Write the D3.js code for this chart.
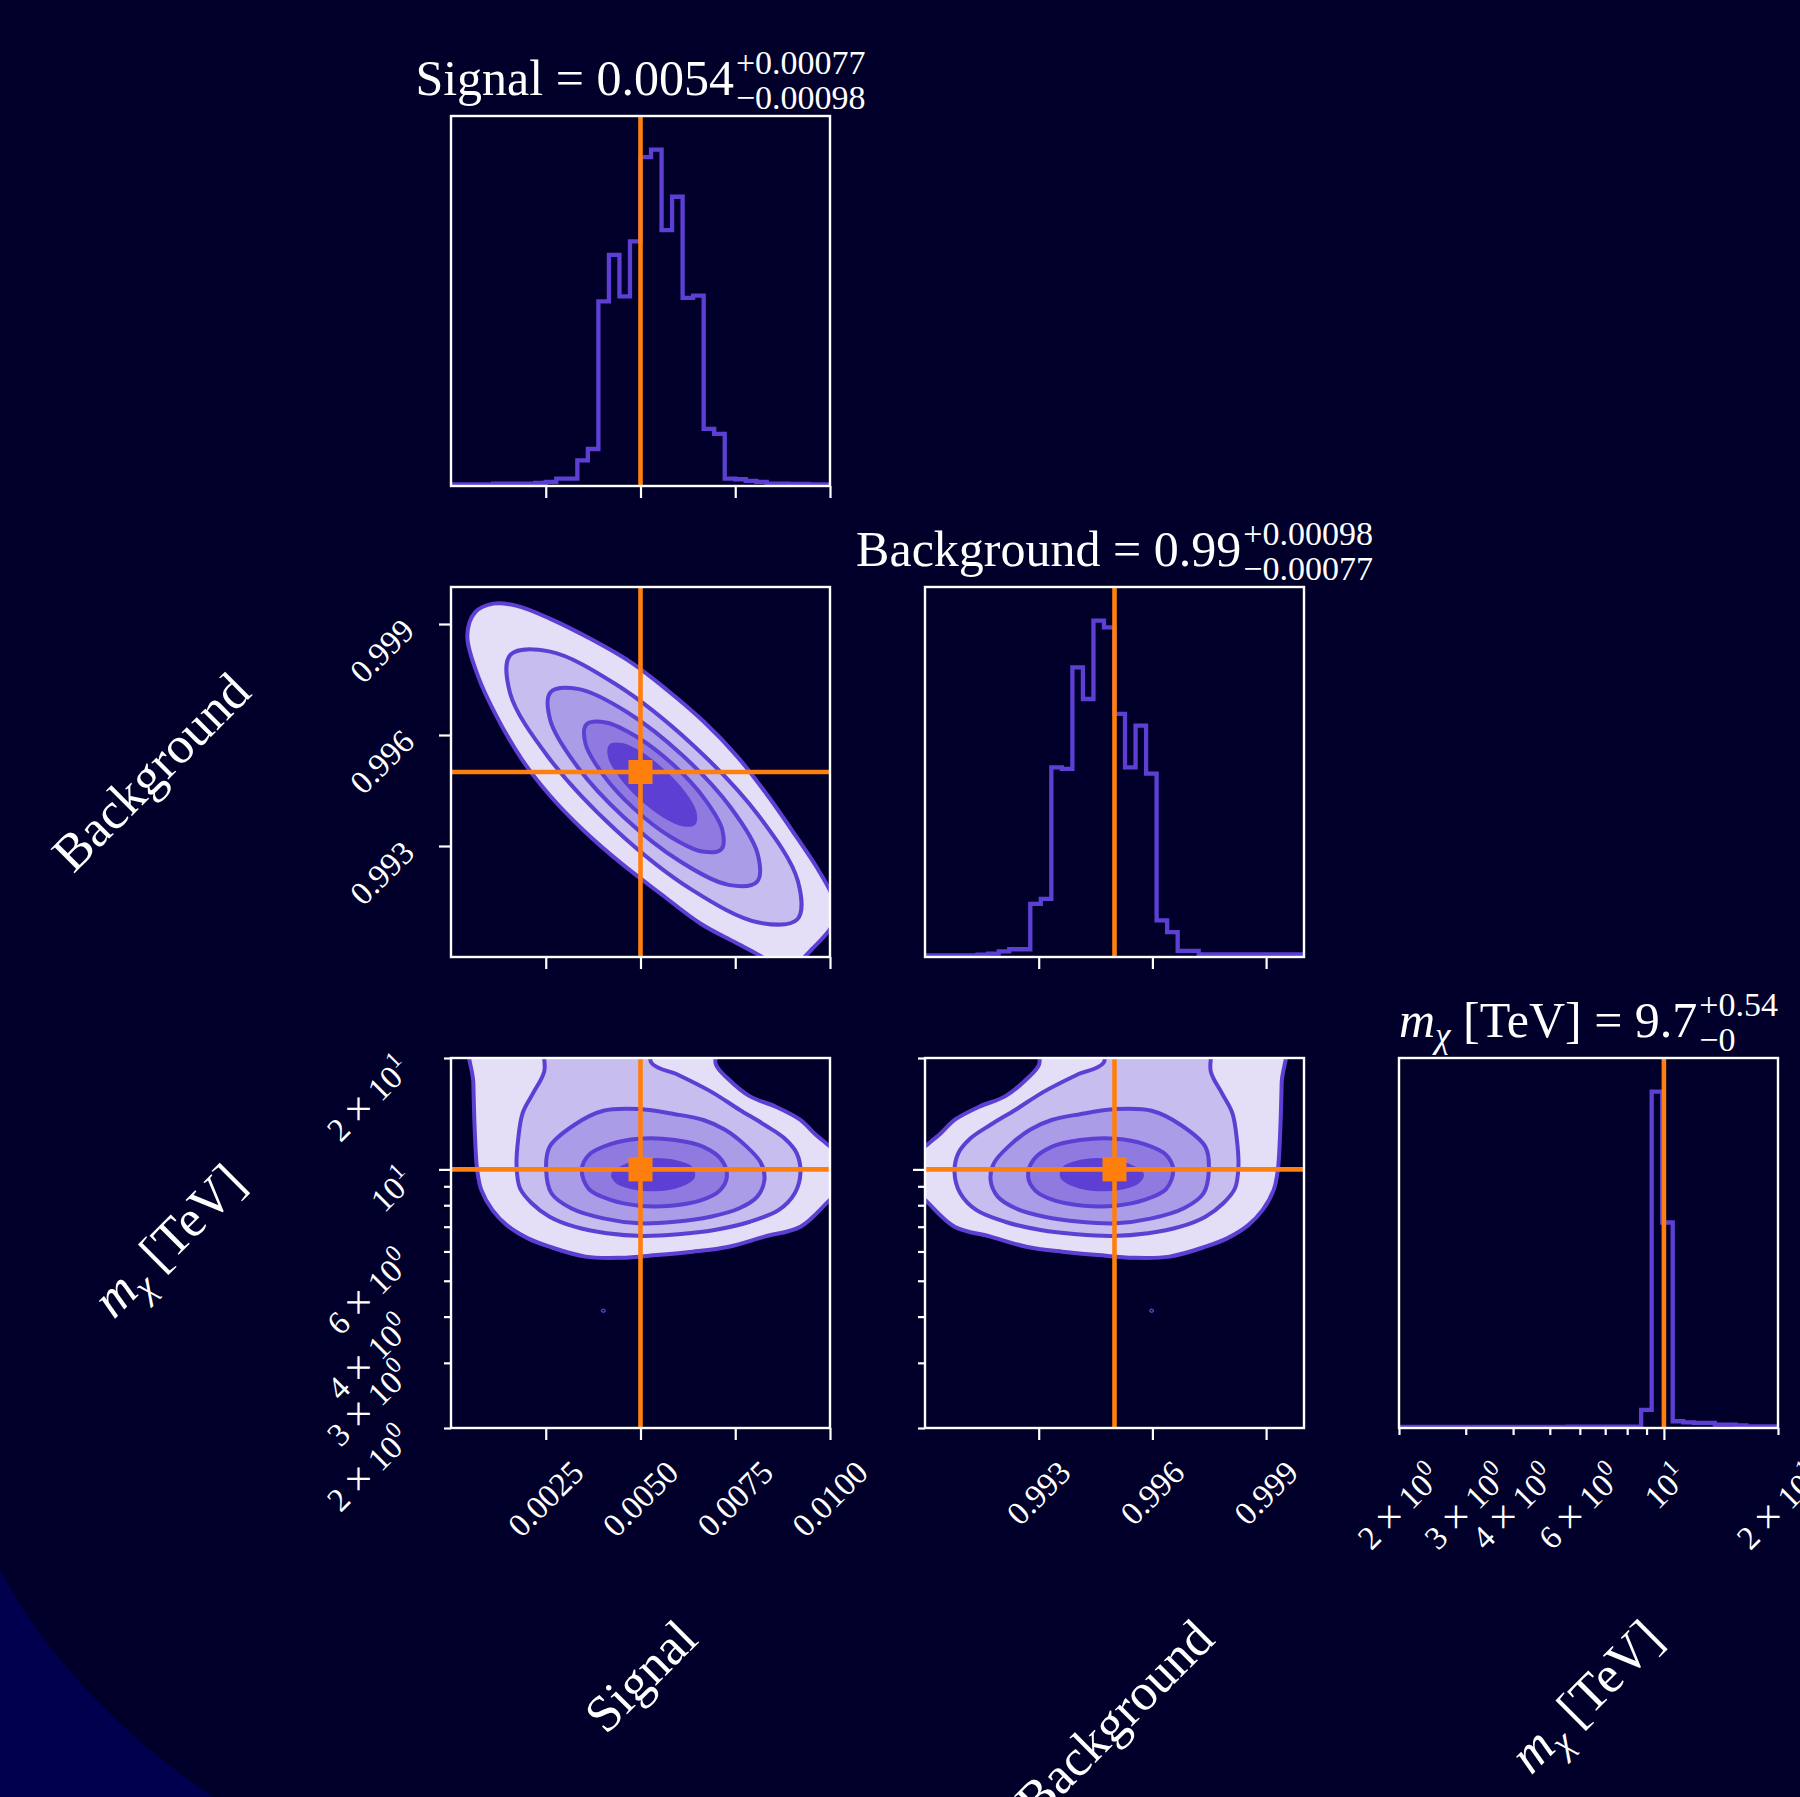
<!DOCTYPE html>
<html lang="en">
<head>
<meta charset="utf-8">
<title>Posterior corner plot</title>
<script src="https://cdn.jsdelivr.net/npm/d3@7"></script>
<style>
  html, body { margin: 0; padding: 0; background: #00002a; }
  svg { display: block; }
  text { font-family: "Liberation Serif", "DejaVu Serif", serif; fill: #ffffff; white-space: pre; }
</style>
</head>
<body>
<svg id="corner" width="1800" height="1797"></svg>
<script>
// ---------------- data ----------------
const signalRange = [0, 0.01];
const backgroundRange = [0.99, 1.0];
const massRange = [2, 20];            // TeV, log axis
const binCount = 36;

const truthSignal = 0.005;
const truthBackground = 0.995;
const truthMass = 10;

const signalSummary = { median: "0.0054", plus: "+0.00077", minus: "\u22120.00098" };
const backgroundSummary = { median: "0.99", plus: "+0.00098", minus: "\u22120.00077" };
const massSummary = { median: "9.7", plus: "+0.54", minus: "\u22120" };

// marginal histograms (samples per bin)
const signalCounts = [5,5,5,5,7,7,7,7,9,12,22,22,76,110,549,687,564,727,978,1000,761,860,559,566,170,155,22,20,15,12,7,7,6,6,5,5];
const backgroundCounts = [5,5,5,5,5,7,10,17,23,23,158,173,564,559,861,767,1000,980,723,564,688,545,109,74,18,18,8,8,8,8,8,8,8,8,8,8];
const massCounts = [3,3,3,3,3,3,3,3,3,3,3,3,3,3,3,3,4,4,4,4,4,4,4,54,1000,611,20,17,15,15,10,10,8,5,5,5];

// tick positions and labels
const signalTicks = [0.0025, 0.005, 0.0075, 0.01];
const signalTickLabels = ["0.0025", "0.0050", "0.0075", "0.0100"];
const backgroundTicks = [0.993, 0.996, 0.999];
const backgroundTickLabels = ["0.993", "0.996", "0.999"];
const massMajorTicks = [10];
const massMinorTicks = [2, 3, 4, 5, 6, 7, 8, 9, 20];
const massLabelTicks = [2, 3, 4, 6, 10, 20];
const massTickMantissa = ["2", "3", "4", "6", "", "2"];
const massTickExponent = ["0", "0", "0", "0", "1", "1"];

// credible-region contours, outermost first: [Signal, Background]
const signalBackgroundContours = [
  [[0.00043,0.99869],[0.00064,0.99932],[0.00112,0.99955],[0.00174,0.99949],[0.00262,0.99914],[0.00368,0.99860],[0.00474,0.99797],[0.00571,0.99721],[0.00668,0.99635],[0.00756,0.99541],[0.00835,0.99437],[0.00906,0.99333],[0.00967,0.99239],[0.01004,0.99171],[0.01019,0.99122],[0.01001,0.99077],[0.00954,0.99023],[0.00906,0.98978],[0.00862,0.98973],[0.00813,0.99005],[0.00747,0.99041],[0.00659,0.99090],[0.00553,0.99171],[0.00447,0.99255],[0.00350,0.99342],[0.00262,0.99435],[0.00187,0.99534],[0.00121,0.99649],[0.00072,0.99757]],
  [[0.00914,0.99102],[0.00812,0.99093],[0.00635,0.99182],[0.00432,0.99346],[0.00257,0.99540],[0.00156,0.99713],[0.00157,0.99817],[0.00259,0.99826],[0.00435,0.99737],[0.00638,0.99573],[0.00814,0.99379],[0.00915,0.99206]],
  [[0.00807,0.99203],[0.00732,0.99195],[0.00605,0.99258],[0.00459,0.99375],[0.00333,0.99515],[0.00262,0.99640],[0.00263,0.99716],[0.00338,0.99724],[0.00466,0.99661],[0.00612,0.99544],[0.00738,0.99404],[0.00809,0.99279]],
  [[0.00713,0.99291],[0.00663,0.99285],[0.00579,0.99325],[0.00483,0.99401],[0.00401,0.99493],[0.00355,0.99576],[0.00357,0.99628],[0.00408,0.99634],[0.00492,0.99594],[0.00588,0.99518],[0.00670,0.99426],[0.00716,0.99343]],
  [[0.00641,0.99362],[0.00611,0.99359],[0.00559,0.99384],[0.00500,0.99431],[0.00449,0.99488],[0.00420,0.99539],[0.00421,0.99570],[0.00451,0.99573],[0.00503,0.99548],[0.00562,0.99500],[0.00613,0.99444],[0.00642,0.99393]]
];

// [Signal, m_chi (TeV)]
const signalMassContours = [
  [[0.00057,23.4],[0.00059,17.1],[0.00063,12.5],[0.00069,9.97],[0.00080,8.80],[0.00109,7.77],[0.00147,7.07],[0.00203,6.51],[0.00260,6.18],[0.00355,5.81],[0.00449,5.77],[0.00544,5.87],[0.00638,5.99],[0.00733,6.18],[0.00827,6.58],[0.00922,7.00],[0.00995,8.18],[0.01035,8.99],[0.01045,10.6],[0.00995,11.65],[0.00959,12.5],[0.00922,13.6],[0.00855,14.8],[0.00789,15.75],[0.00733,17.5],[0.00699,19.2],[0.00695,23.4]],
  [[0.00251,23.4],[0.00246,18.4],[0.00217,16.1],[0.00189,14.2],[0.00177,12.0],[0.00173,10.2],[0.00182,8.89],[0.00213,8.10],[0.00260,7.45],[0.00326,7.00],[0.00411,6.72],[0.00506,6.61],[0.00600,6.68],[0.00695,6.86],[0.00789,7.22],[0.00865,7.77],[0.00907,8.62],[0.00922,9.77],[0.00912,11.06],[0.00879,12.15],[0.00827,13.2],[0.00761,14.5],[0.00685,16.25],[0.00600,18.0],[0.00529,19.4],[0.00520,23.4]],
  [[0.00260,11.5],[0.00326,13.2],[0.00402,14.4],[0.00496,14.55],[0.00591,14.1],[0.00666,13.6],[0.00723,12.8],[0.00775,11.65],[0.00818,10.4],[0.00827,9.37],[0.00808,8.44],[0.00761,7.85],[0.00685,7.45],[0.00591,7.22],[0.00496,7.15],[0.00402,7.37],[0.00317,7.85],[0.00265,8.62],[0.00251,9.97]],
  [[0.00345,9.97],[0.00364,10.95],[0.00421,11.7],[0.00496,12.1],[0.00591,12.0],[0.00666,11.5],[0.00714,10.6],[0.00728,9.57],[0.00709,8.76],[0.00657,8.23],[0.00581,7.98],[0.00496,7.98],[0.00421,8.27],[0.00364,8.84]],
  [[0.00428,9.73],[0.00463,10.24],[0.00520,10.57],[0.00586,10.5],[0.00633,10.07],[0.00638,9.53],[0.00605,9.08],[0.00544,8.84],[0.00477,8.95],[0.00438,9.27]]
];
const signalMassIsland = [[0.00397,4.15],[0.00402,4.19],[0.00407,4.15],[0.00402,4.11]];

// [Background, m_chi (TeV)]
const backgroundMassContours = [
  [[0.99943,23.4],[0.99941,17.1],[0.99937,12.5],[0.99931,9.97],[0.99920,8.80],[0.99891,7.77],[0.99853,7.07],[0.99797,6.51],[0.99740,6.18],[0.99645,5.81],[0.99551,5.77],[0.99456,5.87],[0.99362,5.99],[0.99267,6.18],[0.99173,6.58],[0.99078,7.00],[0.99005,8.18],[0.98965,8.99],[0.98955,10.6],[0.99005,11.65],[0.99041,12.5],[0.99078,13.6],[0.99145,14.8],[0.99211,15.75],[0.99267,17.5],[0.99301,19.2],[0.99305,23.4]],
  [[0.99749,23.4],[0.99754,18.4],[0.99783,16.1],[0.99811,14.2],[0.99823,12.0],[0.99827,10.2],[0.99818,8.89],[0.99787,8.10],[0.99740,7.45],[0.99674,7.00],[0.99589,6.72],[0.99494,6.61],[0.99400,6.68],[0.99305,6.86],[0.99211,7.22],[0.99135,7.77],[0.99093,8.62],[0.99078,9.77],[0.99088,11.06],[0.99121,12.15],[0.99173,13.2],[0.99239,14.5],[0.99315,16.25],[0.99400,18.0],[0.99471,19.4],[0.99480,23.4]],
  [[0.99740,11.5],[0.99674,13.2],[0.99598,14.4],[0.99504,14.55],[0.99409,14.1],[0.99334,13.6],[0.99277,12.8],[0.99225,11.65],[0.99182,10.4],[0.99173,9.37],[0.99192,8.44],[0.99239,7.85],[0.99315,7.45],[0.99409,7.22],[0.99504,7.15],[0.99598,7.37],[0.99683,7.85],[0.99735,8.62],[0.99749,9.97]],
  [[0.99655,9.97],[0.99636,10.95],[0.99579,11.7],[0.99504,12.1],[0.99409,12.0],[0.99334,11.5],[0.99286,10.6],[0.99272,9.57],[0.99291,8.76],[0.99343,8.23],[0.99419,7.98],[0.99504,7.98],[0.99579,8.27],[0.99636,8.84]],
  [[0.99572,9.73],[0.99537,10.24],[0.99480,10.57],[0.99414,10.5],[0.99367,10.07],[0.99362,9.53],[0.99395,9.08],[0.99456,8.84],[0.99523,8.95],[0.99562,9.27]]
];
const backgroundMassIsland = [[0.99603,4.15],[0.99598,4.19],[0.99593,4.15],[0.99598,4.11]];

// ---------------- layout & style ----------------
const PW = 379, PH = 370;
const colX = [451, 925, 1399];
const rowY = [116, 587, 1058];
const PURPLE = "#5d40d3", ORANGE = "#ff7f0e", WHITE = "#ffffff";
const levelFills = ["#e4dff7", "#c7bdef", "#ab9ce7", "#8f7bdf", "#5d40d3"];
const TITLE_SIZE = 50, LABEL_SIZE = 52, TICK_SIZE = 33;
const HIST_WIDTH = 4.3, CONTOUR_WIDTH = 4, TRUTH_WIDTH = 4.6, FRAME_WIDTH = 2.4;

const svg = d3.select("#corner");

function linearEdges(range) {
  return d3.range(binCount + 1).map(i => range[0] + (range[1] - range[0]) * i / binCount);
}
function logEdges(range) {
  return d3.range(binCount + 1).map(i => range[0] * Math.pow(range[1] / range[0], i / binCount));
}

function panel(r, c) {
  return svg.append("g").attr("transform", `translate(${colX[c]},${rowY[r]})`);
}

function frame(g) {
  g.append("rect").attr("width", PW).attr("height", PH)
    .attr("fill", "none").attr("stroke", WHITE).attr("stroke-width", FRAME_WIDTH);
}

function ticks(g, orient, scale, values, size) {
  const axis = (orient === "bottom" ? d3.axisBottom(scale) : d3.axisLeft(scale))
    .tickValues(values).tickSize(size).tickFormat("");
  const a = g.append("g").call(axis);
  if (orient === "bottom") a.attr("transform", `translate(0,${PH})`);
  a.select(".domain").remove();
  a.selectAll(".tick text").remove();
  a.selectAll(".tick line").attr("stroke", WHITE).attr("stroke-width", 2.2);
}

function histogram(r, c, xScale, edges, counts, truth) {
  const g = panel(r, c);
  const y = d3.scaleLinear([0, 1.1 * d3.max(counts)], [PH, 0]);
  const pts = [[edges[0], 0]];
  counts.forEach((v, i) => pts.push([edges[i], v]));
  pts.push([edges[edges.length - 1], counts[counts.length - 1]]);
  pts.push([edges[edges.length - 1], 0]);
  const step = d3.line().x(d => xScale(d[0])).y(d => y(d[1])).curve(d3.curveStepAfter);
  const inner = g.append("g").attr("clip-path", "url(#panel-clip)");
  inner.append("path").attr("d", step(pts)).attr("fill", "none")
    .attr("stroke", PURPLE).attr("stroke-width", HIST_WIDTH).attr("stroke-linejoin", "miter");
  inner.append("line").attr("x1", xScale(truth)).attr("x2", xScale(truth))
    .attr("y1", 0).attr("y2", PH).attr("stroke", ORANGE).attr("stroke-width", TRUTH_WIDTH);
  return g;
}

function contours(r, c, xScale, yScale, levels, island, tx, ty) {
  const g = panel(r, c);
  const inner = g.append("g").attr("clip-path", "url(#panel-clip)");
  const shape = d3.line().x(d => xScale(d[0])).y(d => yScale(d[1]))
    .curve(d3.curveCatmullRomClosed.alpha(0.5));
  levels.forEach((poly, i) => inner.append("path").attr("d", shape(poly)).attr("fill", levelFills[i]));
  levels.forEach(poly => inner.append("path").attr("d", shape(poly)).attr("fill", "none")
    .attr("stroke", PURPLE).attr("stroke-width", CONTOUR_WIDTH));
  if (island) {
    inner.append("path").attr("d", shape(island)).attr("fill", "none")
      .attr("stroke", PURPLE).attr("stroke-width", 1.3);
  }
  inner.append("line").attr("x1", xScale(tx)).attr("x2", xScale(tx)).attr("y1", 0).attr("y2", PH)
    .attr("stroke", ORANGE).attr("stroke-width", TRUTH_WIDTH);
  inner.append("line").attr("x1", 0).attr("x2", PW).attr("y1", yScale(ty)).attr("y2", yScale(ty))
    .attr("stroke", ORANGE).attr("stroke-width", TRUTH_WIDTH);
  inner.append("path").attr("d", d3.symbol(d3.symbolSquare, 24 * 24)())
    .attr("transform", `translate(${xScale(tx)},${yScale(ty)})`).attr("fill", ORANGE);
  return g;
}

// text rotated 45 degrees, positioned by the half-extent of its rotated box
function rotatedText(build, place) {
  const g = svg.append("g");
  const t = g.append("text");
  build(t);
  const bb = t.node().getBBox();
  t.attr("transform", `translate(${-(bb.x + bb.width / 2)},${-(bb.y + bb.height / 2)})`);
  const half = (bb.width + bb.height) * Math.SQRT1_2 / 2;
  const [cx, cy] = place(half);
  g.attr("transform", `translate(${cx},${cy}) rotate(-45)`);
}

const plain = (str, size) => t => t.style("font-size", size + "px").text(str);
const power = (mant, exp, size) => t => {
  t.style("font-size", size + "px");
  if (mant) {
    t.append("tspan").text(mant + " ");
    t.append("tspan").style("font-size", (size * 1.3) + "px").attr("dy", size * 0.08).text("\u00d7");
    t.append("tspan").style("font-size", size + "px").attr("dy", -size * 0.08).text(" 10");
  } else {
    t.append("tspan").text("10");
  }
  t.append("tspan").attr("dy", -size * 0.42).style("font-size", (size * 0.72) + "px").text(exp);
};
const massSymbol = (t, size) => {
  t.append("tspan").style("font-style", "italic").text("m");
  t.append("tspan").style("font-style", "italic").style("font-size", (size * 0.7) + "px")
    .attr("dy", size * 0.2).text("\u03c7");
  t.append("tspan").attr("dy", -size * 0.2).style("font-size", size + "px").text(" [TeV]");
};

function title(cx, baseline, build, summary) {
  const size = TITLE_SIZE;
  const g = svg.append("g");
  const t = g.append("text").attr("x", 0).attr("y", baseline).style("font-size", size + "px");
  build(t, size);
  t.append("tspan").style("font-size", size + "px").text(" = " + summary.median);
  const w = t.node().getComputedTextLength();
  const ss = size * 0.68;
  const sup = g.append("text").attr("x", w + 2).attr("y", baseline - size * 0.43)
    .style("font-size", ss + "px").text(summary.plus);
  const sub = g.append("text").attr("x", w + 2).attr("y", baseline + size * 0.27)
    .style("font-size", ss + "px").text(summary.minus);
  const total = w + 2 + Math.max(sup.node().getComputedTextLength(), sub.node().getComputedTextLength());
  g.attr("transform", `translate(${cx - total / 2},0)`);
}

function draw() {
  svg.append("rect").attr("width", 1800).attr("height", 1797).attr("fill", "#00002a");
  svg.append("path").attr("d", "M0,1570 Q70,1700 213,1797 L0,1797 Z").attr("fill", "#00004e");
  svg.append("defs").append("clipPath").attr("id", "panel-clip")
    .append("rect").attr("width", PW).attr("height", PH);

  const xSignal = d3.scaleLinear(signalRange, [0, PW]);
  const xBackground = d3.scaleLinear(backgroundRange, [0, PW]);
  const xMass = d3.scaleLog(massRange, [0, PW]);
  const yBackground = d3.scaleLinear(backgroundRange, [PH, 0]);
  const yMass = d3.scaleLog(massRange, [PH, 0]);

  // diagonal: 1-D marginals
  let g = histogram(0, 0, xSignal, linearEdges(signalRange), signalCounts, truthSignal);
  ticks(g, "bottom", xSignal, signalTicks, 12); frame(g);

  g = histogram(1, 1, xBackground, linearEdges(backgroundRange), backgroundCounts, truthBackground);
  ticks(g, "bottom", xBackground, backgroundTicks, 12); frame(g);

  g = histogram(2, 2, xMass, logEdges(massRange), massCounts, truthMass);
  ticks(g, "bottom", xMass, massMajorTicks, 12);
  ticks(g, "bottom", xMass, massMinorTicks, 7); frame(g);

  // off-diagonal: 2-D credible regions
  g = contours(1, 0, xSignal, yBackground, signalBackgroundContours, null, truthSignal, truthBackground);
  ticks(g, "bottom", xSignal, signalTicks, 12);
  ticks(g, "left", yBackground, backgroundTicks, 12); frame(g);

  g = contours(2, 0, xSignal, yMass, signalMassContours, signalMassIsland, truthSignal, truthMass);
  ticks(g, "bottom", xSignal, signalTicks, 12);
  ticks(g, "left", yMass, massMajorTicks, 12);
  ticks(g, "left", yMass, massMinorTicks, 7); frame(g);

  g = contours(2, 1, xBackground, yMass, backgroundMassContours, backgroundMassIsland, truthBackground, truthMass);
  ticks(g, "bottom", xBackground, backgroundTicks, 12);
  ticks(g, "left", yMass, massMajorTicks, 12);
  ticks(g, "left", yMass, massMinorTicks, 7); frame(g);

  // tick labels
  const xLabelTop = rowY[2] + PH + 26;
  const yLabelRight = colX[0] - 30;
  signalTicks.forEach((v, i) => rotatedText(plain(signalTickLabels[i], TICK_SIZE),
    h => [colX[0] + xSignal(v), xLabelTop + h]));
  backgroundTicks.forEach((v, i) => rotatedText(plain(backgroundTickLabels[i], TICK_SIZE),
    h => [colX[1] + xBackground(v), xLabelTop + h]));
  massLabelTicks.forEach((v, i) => rotatedText(power(massTickMantissa[i], massTickExponent[i], TICK_SIZE),
    h => [colX[2] + xMass(v), xLabelTop + h]));
  backgroundTicks.forEach((v, i) => rotatedText(plain(backgroundTickLabels[i], TICK_SIZE),
    h => [yLabelRight - h, rowY[1] + yBackground(v) - 12 + h]));
  massLabelTicks.forEach((v, i) => rotatedText(power(massTickMantissa[i], massTickExponent[i], TICK_SIZE),
    h => [yLabelRight - h, rowY[2] + yMass(v) - 12 + h]));

  // axis labels
  const bottomTop = 1609, leftRight = 261;
  rotatedText(plain("Signal", LABEL_SIZE), h => [colX[0] + PW / 2, bottomTop + h]);
  rotatedText(plain("Background", LABEL_SIZE), h => [colX[1] + PW / 2, bottomTop + h]);
  rotatedText(t => { t.style("font-size", LABEL_SIZE + "px"); massSymbol(t, LABEL_SIZE); },
    h => [colX[2] + PW / 2, bottomTop + h]);
  rotatedText(plain("Background", LABEL_SIZE), h => [leftRight - h, rowY[1] + PH / 2]);
  rotatedText(t => { t.style("font-size", LABEL_SIZE + "px"); massSymbol(t, LABEL_SIZE); },
    h => [leftRight - h, rowY[2] + PH / 2]);

  // titles with median and credible interval
  title(colX[0] + PW / 2, rowY[0] - 21, t => t.append("tspan").text("Signal"), signalSummary);
  title(colX[1] + PW / 2, rowY[1] - 21, t => t.append("tspan").text("Background"), backgroundSummary);
  title(colX[2] + PW / 2, rowY[2] - 21, (t, s) => massSymbol(t, s), massSummary);
}

document.fonts.ready.then(draw);
</script>
</body>
</html>
